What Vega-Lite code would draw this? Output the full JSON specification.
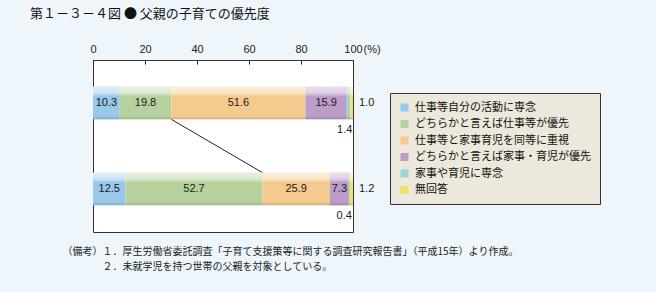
{
  "$schema": "https://vega.github.io/schema/vega-lite/v6.json",
  "width": 260,
  "height": 172,
  "autosize": {"type": "none"},
  "padding": {"left": 93, "top": 60, "right": 303, "bottom": 60},
  "background": "#eef6fc",
  "config": {
    "view": {"fill": "white", "stroke": "#333333", "strokeWidth": 1},
    "font": "Liberation Sans, Noto Sans CJK JP"
  },
  "title": {
    "text": "第１－３－４図 ● 父親の子育ての優先度",
    "anchor": "start",
    "frame": "group",
    "dx": -63,
    "offset": 22,
    "fontSize": 13,
    "fontWeight": "normal",
    "font": "Noto Sans CJK JP",
    "color": "#111111"
  },
  "data": {
    "values": [
      {"who": "希望", "k": 1, "cat": "仕事等自分の活動に専念", "v": 10.3},
      {"who": "希望", "k": 2, "cat": "どちらかと言えば仕事等が優先", "v": 19.8},
      {"who": "希望", "k": 3, "cat": "仕事等と家事育児を同等に重視", "v": 51.6},
      {"who": "希望", "k": 4, "cat": "どちらかと言えば家事・育児が優先", "v": 15.9},
      {"who": "希望", "k": 5, "cat": "家事や育児に専念", "v": 1.4},
      {"who": "希望", "k": 6, "cat": "無回答", "v": 1.0},
      {"who": "現実", "k": 1, "cat": "仕事等自分の活動に専念", "v": 12.5},
      {"who": "現実", "k": 2, "cat": "どちらかと言えば仕事等が優先", "v": 52.7},
      {"who": "現実", "k": 3, "cat": "仕事等と家事育児を同等に重視", "v": 25.9},
      {"who": "現実", "k": 4, "cat": "どちらかと言えば家事・育児が優先", "v": 7.3},
      {"who": "現実", "k": 5, "cat": "家事や育児に専念", "v": 0.4},
      {"who": "現実", "k": 6, "cat": "無回答", "v": 1.2}
    ]
  },
  "transform": [
    {"stack": "v", "groupby": ["who"], "sort": [{"field": "k", "order": "ascending"}], "as": ["x0", "x1"]}
  ],
  "resolve": {"axis": {"x": "independent"}},
  "layer": [
    {
      "transform": [{"filter": "datum.k == 2"}, {"pivot": "who", "value": "x1"}],
      "mark": {"type": "rule", "color": "#222222", "strokeWidth": 1},
      "encoding": {
        "x": {"field": "希望", "type": "quantitative", "axis": null},
        "x2": {"field": "現実"},
        "y": {"datum": "希望", "type": "nominal", "bandPosition": 1, "axis": null},
        "y2": {"datum": "現実", "bandPosition": 0}
      }
    },
    {
      "mark": {"type": "bar"},
      "encoding": {
        "x": {
          "field": "x0",
          "type": "quantitative",
          "scale": {"domain": [0, 100], "nice": false},
          "axis": {
            "orient": "top",
            "values": [0, 20, 40, 60, 80, 100],
            "title": "(%)",
            "titleAnchor": "end",
            "titleAlign": "left",
            "titleBaseline": "middle",
            "titleX": 270,
            "titleY": -11,
            "titleFontSize": 11,
            "titleFontWeight": "normal",
            "titleColor": "#222222",
            "tickSize": -4,
            "tickWidth": 1,
            "tickColor": "#222222",
            "domain": false,
            "grid": false,
            "labelFontSize": 11,
            "labelColor": "#222222",
            "labelPadding": 15,
            "labelBaseline": "middle",
            "labelFlush": false
          }
        },
        "x2": {"field": "x1"},
        "y": {
          "field": "who",
          "type": "nominal",
          "sort": ["希望", "現実"],
          "scale": {"paddingInner": 0.62, "paddingOuter": 0.31},
          "axis": {
            "title": null,
            "tickBand": "extent",
            "tickSize": -4,
            "tickWidth": 1,
            "tickColor": "#222222",
            "domain": false,
            "labelFontSize": 11,
            "labelFont": "Noto Sans CJK JP",
            "labelColor": "#111111",
            "labelPadding": 9
          }
        },
        "color": {
          "field": "cat",
          "type": "nominal",
          "scale": {
            "domain": ["仕事等自分の活動に専念", "どちらかと言えば仕事等が優先", "仕事等と家事育児を同等に重視", "どちらかと言えば家事・育児が優先", "家事や育児に専念", "無回答"],
            "range": ["#98c8ea", "#b6d19e", "#f4ca8e", "#bb9dc8", "#9fd3d3", "#f7df6a"]
          },
          "legend": {
            "title": null,
            "orient": "none",
            "direction": "vertical",
            "legendX": 297,
            "legendY": 33,
            "fillColor": "#ece9dc",
            "strokeColor": "#333333",
            "padding": 9,
            "symbolType": "square",
            "symbolSize": 64,
            "symbolStrokeWidth": 0,
            "symbolOpacity": 1,
            "labelFontSize": 11,
            "labelFont": "Noto Sans CJK JP",
            "labelColor": "#111111",
            "labelOffset": 5,
            "labelLimit": 300,
            "rowPadding": 4.5
          }
        }
      }
    },
    {
      "mark": {
        "type": "bar",
        "color": {
          "gradient": "linear",
          "x1": 0, "y1": 0, "x2": 0, "y2": 1,
          "stops": [
            {"offset": 0, "color": "rgba(255,255,255,0.7)"},
            {"offset": 0.2, "color": "rgba(255,255,255,0.5)"},
            {"offset": 0.3, "color": "rgba(255,255,255,0)"},
            {"offset": 0.9, "color": "rgba(0,0,0,0)"},
            {"offset": 1, "color": "rgba(0,0,0,0.15)"}
          ]
        }
      },
      "encoding": {
        "x": {"field": "x0", "type": "quantitative", "axis": null},
        "x2": {"field": "x1"},
        "y": {"field": "who", "type": "nominal", "sort": ["希望", "現実"], "axis": null}
      }
    },
    {
      "mark": {"type": "text", "fontSize": 11, "color": "#1a1a1a", "baseline": "middle"},
      "encoding": {
        "x": {
          "field": "v",
          "type": "quantitative",
          "stack": "zero",
          "bandPosition": 0.5,
          "axis": {
            "orient": "bottom",
            "labels": false,
            "ticks": false,
            "domain": false,
            "grid": false,
            "title": ["（備考）１．厚生労働省委託調査「子育て支援策等に関する調査研究報告書」（平成15年）より作成。", "\u200b　　　　２．未就学児を持つ世帯の父親を対象としている。"],
            "titleAnchor": "start",
            "titleAlign": "left",
            "titleBaseline": "top",
            "titleX": -31,
            "titleY": 14,
            "titleFont": "Noto Sans CJK JP",
            "titleFontSize": 10,
            "titleFontWeight": "normal",
            "titleColor": "#222222",
            "titleLineHeight": 15
          }
        },
        "y": {"field": "who", "type": "nominal", "sort": ["希望", "現実"]},
        "order": {"field": "k"},
        "text": {"condition": {"test": "datum.v >= 2", "field": "v", "format": ".1f"}, "value": ""}
      }
    },
    {
      "mark": {"type": "text", "fontSize": 11, "color": "#1a1a1a", "baseline": "middle", "align": "right", "dx": 2, "dy": 11},
      "encoding": {
        "x": {"field": "v", "type": "quantitative", "stack": "zero", "bandPosition": 1, "axis": null},
        "y": {"field": "who", "type": "nominal", "sort": ["希望", "現実"], "bandPosition": 1},
        "order": {"field": "k"},
        "text": {"condition": {"test": "datum.k == 5", "field": "v", "format": ".1f"}, "value": ""}
      }
    },
    {
      "mark": {"type": "text", "fontSize": 11, "color": "#1a1a1a", "baseline": "middle", "align": "left", "dx": 6},
      "encoding": {
        "x": {"field": "v", "type": "quantitative", "stack": "zero", "bandPosition": 1, "axis": null},
        "y": {"field": "who", "type": "nominal", "sort": ["希望", "現実"]},
        "order": {"field": "k"},
        "text": {"condition": {"test": "datum.k == 6", "field": "v", "format": ".1f"}, "value": ""}
      }
    }
  ]
}
